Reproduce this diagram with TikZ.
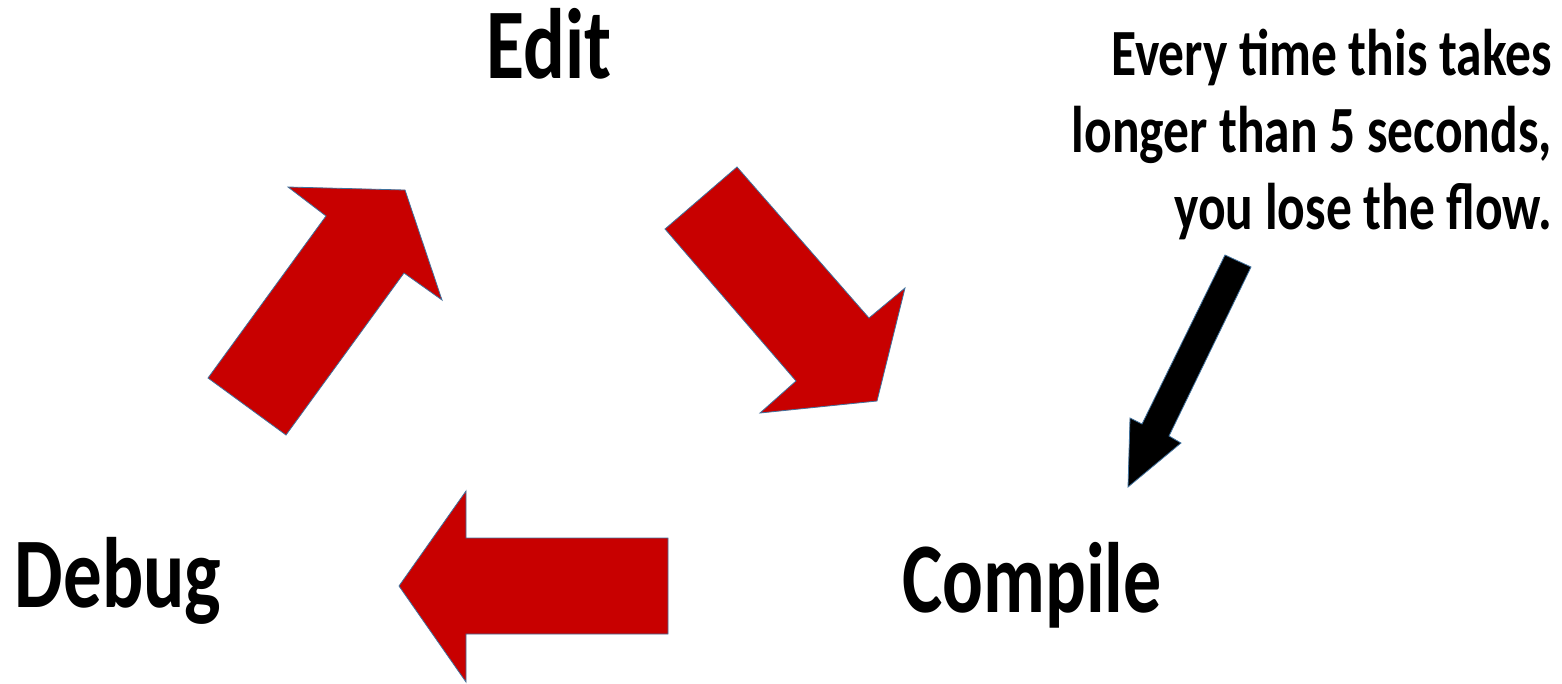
\documentclass[tikz,border=0pt]{standalone}
\usepackage{fontspec}
\setmainfont{Carlito}
\usepackage{graphicx}
\definecolor{arrred}{HTML}{C80000}
\definecolor{arredge}{HTML}{41719C}
\newcommand\sq[2]{\scalebox{#1}[1]{#2}}
\tikzset{
  blockarrow/.style={fill=arrred, draw=arredge, line width=0.8pt, line join=miter},
  blackarrow/.style={fill=black, draw=arredge, line width=0.8pt, line join=miter},
  big/.style={font=\fontsize{100}{110}\selectfont\bfseries, inner sep=0pt},
  note/.style={font=\fontsize{66}{77}\selectfont\bfseries, inner sep=0pt, align=right}
}
\begin{document}
\begin{tikzpicture}[x=1pt,y=-1pt]
\useasboundingbox (0,0) rectangle (1562,683);
% labels
\node[big, anchor=base] (edit) at (549,78) {\sq{0.78}{Edit}};
\node[big, anchor=base] (debug) at (118,607) {\sq{0.77}{Debug}};
\node[big, anchor=base] (compile) at (1032,612) {\sq{0.76}{Compile}};
\node[note, anchor=north east] (remark) at (1552,29)
  {\sq{0.78}{Every time this takes}\\\sq{0.78}{longer than 5 seconds,}\\\sq{0.78}{you lose the flow.}};
% red block arrows
\draw[blockarrow] (208,378) -- (326,216) -- (288,187) -- (405,190) -- (442,300) -- (404,273) -- (286,435) -- cycle;
\draw[blockarrow] (665,229) -- (737,167) -- (869,318) -- (905,288) -- (877,401) -- (760,413) -- (796,381) -- cycle;
\draw[blockarrow] (399,586) -- (466,491) -- (466,538) -- (668,538) -- (668,634) -- (466,634) -- (466,682) -- cycle;
% black arrow
\draw[blackarrow] (1225,255) -- (1251,267) -- (1169,436) -- (1181,443) -- (1128,487) -- (1130,418) -- (1142,424) -- cycle;
\end{tikzpicture}
\end{document}
